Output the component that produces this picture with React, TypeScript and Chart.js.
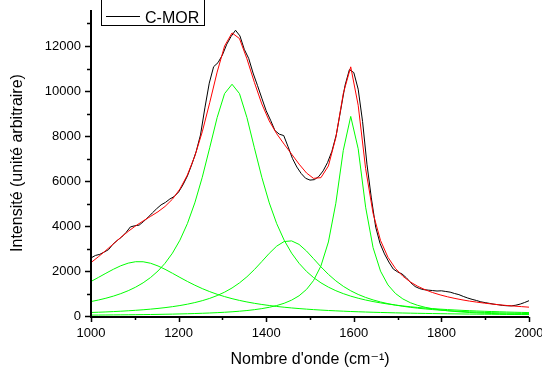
import { useEffect, useRef } from 'react';
import { Chart, registerables } from 'chart.js';

Chart.register(...registerables);

const FONT = "'Liberation Sans', Arial, Helvetica, 'DejaVu Sans', sans-serif";

// Fitted components grid (wavenumber, cm-1)
const FIT_X = [1000, 1017, 1034, 1051, 1068, 1085, 1102, 1119, 1136, 1153, 1169, 1186, 1203, 1220, 1237, 1254, 1271, 1288, 1305, 1322, 1339, 1356, 1373, 1390, 1407, 1424, 1441, 1458, 1475, 1492, 1508, 1525, 1542, 1559, 1576, 1593, 1610, 1627, 1644, 1661, 1678, 1695, 1712, 1729, 1746, 1763, 1780, 1797, 1814, 1831, 1847, 1864, 1881, 1898, 1915, 1932, 1949, 1966, 1983, 2000];

const PEAK_1 = [1536, 1715, 1899, 2076, 2233, 2350, 2413, 2411, 2345, 2224, 2076, 1899, 1715, 1536, 1370, 1218, 1084, 965, 862, 771, 693, 624, 564, 512, 466, 425, 390, 358, 330, 305, 284, 263, 245, 229, 214, 200, 188, 177, 166, 157, 148, 140, 133, 126, 120, 114, 108, 103, 98, 94, 90, 86, 83, 79, 76, 73, 70, 68, 65, 63];
const PEAK_2 = [642, 710, 790, 883, 994, 1125, 1283, 1475, 1710, 2001, 2342, 2795, 3370, 4104, 5027, 6164, 7477, 8820, 9885, 10300, 9885, 8820, 7477, 6164, 5027, 4104, 3370, 2795, 2342, 1983, 1710, 1475, 1283, 1125, 994, 883, 790, 710, 642, 583, 531, 486, 446, 411, 380, 352, 327, 305, 285, 267, 251, 236, 222, 210, 198, 187, 177, 168, 160, 152];
const PEAK_3 = [156, 168, 181, 196, 213, 232, 253, 277, 305, 337, 372, 415, 465, 525, 596, 681, 783, 908, 1060, 1245, 1471, 1743, 2063, 2420, 2786, 3106, 3310, 3338, 3182, 2888, 2550, 2185, 1851, 1562, 1320, 1121, 958, 825, 715, 624, 548, 485, 432, 386, 347, 314, 285, 260, 238, 218, 202, 186, 173, 160, 149, 139, 130, 122, 115, 108];
const PEAK_4 = [40, 42, 45, 48, 51, 54, 58, 62, 67, 72, 78, 84, 92, 100, 110, 121, 134, 149, 166, 187, 213, 243, 281, 328, 387, 464, 566, 705, 898, 1180, 1574, 2226, 3290, 5012, 7360, 8870, 7432, 4836, 3039, 1994, 1381, 1003, 758, 591, 473, 386, 321, 271, 232, 201, 177, 155, 138, 123, 111, 100, 91, 83, 76, 69];
const FIT_Y = [2374, 2635, 2915, 3203, 3491, 3761, 4007, 4225, 4427, 4634, 4868, 5193, 5642, 6265, 7103, 8184, 9478, 10842, 12000, 12580, 12330, 11430, 10385, 9424, 8666, 8099, 7636, 7196, 6752, 6356, 6118, 6149, 6669, 7928, 9888, 11074, 9368, 6548, 4562, 3358, 2608, 2114, 1769, 1514, 1320, 1166, 1041, 939, 853, 780, 720, 663, 616, 572, 534, 499, 468, 441, 416, 392];

// Measured spectrum C-MOR
const DATA_X = [1000, 1010, 1020, 1030, 1040, 1050, 1060, 1070, 1080, 1090, 1100, 1110, 1120, 1130, 1140, 1150, 1160, 1170, 1180, 1190, 1200, 1210, 1220, 1230, 1240, 1250, 1260, 1270, 1280, 1290, 1300, 1310, 1320, 1330, 1340, 1350, 1360, 1370, 1380, 1390, 1400, 1410, 1420, 1430, 1440, 1450, 1460, 1470, 1480, 1490, 1500, 1510, 1520, 1530, 1540, 1550, 1560, 1570, 1580, 1590, 1600, 1610, 1620, 1630, 1640, 1650, 1660, 1670, 1680, 1690, 1700, 1710, 1720, 1730, 1740, 1750, 1760, 1770, 1780, 1790, 1800, 1810, 1820, 1830, 1840, 1850, 1860, 1870, 1880, 1890, 1900, 1910, 1920, 1930, 1940, 1950, 1960, 1970, 1980, 1990, 2000];
const DATA_Y = [2580, 2690, 2740, 2840, 2950, 3190, 3360, 3510, 3710, 3960, 4010, 4040, 4200, 4380, 4580, 4770, 4940, 5050, 5200, 5310, 5510, 5830, 6220, 6730, 7300, 8050, 9250, 10350, 11080, 11260, 11600, 12080, 12430, 12700, 12450, 11850, 11450, 10800, 10250, 9680, 9120, 8700, 8240, 8080, 8020, 7520, 7000, 6620, 6330, 6120, 6040, 6060, 6200, 6450, 6820, 7320, 8050, 9150, 10250, 10950, 10820, 10080, 8650, 6750, 5250, 3950, 3220, 2760, 2400, 2090, 1960, 1870, 1700, 1480, 1310, 1220, 1170, 1150, 1130, 1110, 1120, 1090, 1060, 1000, 950, 870, 800, 740, 690, 630, 595, 560, 525, 500, 470, 455, 450, 480, 530, 600, 680];

const X_MAJOR = [1000, 1200, 1400, 1600, 1800, 2000];
const X_MINOR = [1100, 1300, 1500, 1700, 1900];
const Y_MAJOR = [0, 2000, 4000, 6000, 8000, 10000, 12000];
const Y_MINOR = [1000, 3000, 5000, 7000, 9000, 11000, 13000];

const LEGEND_LABEL = 'C-MOR';
const X_TITLE = "Nombre d'onde (cm\u207B\u00B9)";
const Y_TITLE = 'Intensité (unité arbitraire)';

export default function App() {
  const ref = useRef<HTMLCanvasElement>(null);

  useEffect(() => {
    const canvas = ref.current;
    if (!canvas) return;
    const pts = (xs: number[], ys: number[]) => xs.map((x, i) => ({ x, y: ys[i] }));
    const green = (ys: number[]) => ({
      label: '',
      data: pts(FIT_X, ys),
      borderColor: '#00ff00',
      borderWidth: 1,
      pointRadius: 0,
      fill: false,
      tension: 0,
      order: 2,
    });

    const axesPlugin = {
      id: 'axesPlugin',
      afterDatasetsDraw(chart: any) {
        const { ctx, chartArea } = chart;
        const { left, right, top, bottom } = chartArea;
        const xs = chart.scales.x;
        const ys = chart.scales.y;
        ctx.save();
        ctx.strokeStyle = '#000';
        ctx.lineWidth = 2;
        ctx.beginPath();
        ctx.moveTo(left, top);
        ctx.lineTo(left, bottom + 2);
        ctx.moveTo(left - 1, bottom + 1);
        ctx.lineTo(right, bottom + 1);
        ctx.stroke();
        ctx.lineWidth = 1.5;
        ctx.beginPath();
        X_MAJOR.forEach((v) => {
          const px = Math.round(xs.getPixelForValue(v)) + 0.5;
          ctx.moveTo(px, bottom + 1);
          ctx.lineTo(px, bottom + 6);
        });
        X_MINOR.forEach((v) => {
          const px = Math.round(xs.getPixelForValue(v)) + 0.5;
          ctx.moveTo(px, bottom + 1);
          ctx.lineTo(px, bottom + 4);
        });
        Y_MAJOR.forEach((v) => {
          const py = Math.round(ys.getPixelForValue(v)) + 0.5;
          ctx.moveTo(left, py);
          ctx.lineTo(left - 6, py);
        });
        Y_MINOR.forEach((v) => {
          const py = Math.round(ys.getPixelForValue(v)) + 0.5;
          ctx.moveTo(left, py);
          ctx.lineTo(left - 4, py);
        });
        ctx.stroke();
        ctx.restore();
      },
      afterDraw(chart: any) {
        const { ctx } = chart;
        ctx.save();
        ctx.fillStyle = '#fff';
        ctx.fillRect(101, -2, 104, 27);
        ctx.strokeStyle = '#000';
        ctx.lineWidth = 1;
        ctx.strokeRect(101.5, -2, 103, 27.5);
        ctx.beginPath();
        ctx.moveTo(106, 16.5);
        ctx.lineTo(140, 16.5);
        ctx.stroke();
        ctx.fillStyle = '#000';
        ctx.font = `16px ${FONT}`;
        ctx.textBaseline = 'alphabetic';
        ctx.textAlign = 'left';
        ctx.fillText(LEGEND_LABEL, 145, 22.5);
        ctx.restore();
      },
    };

    const chart = new Chart(canvas, {
      type: 'line',
      data: {
        datasets: [
          {
            label: LEGEND_LABEL,
            data: pts(DATA_X, DATA_Y),
            borderColor: '#000000',
            borderWidth: 1,
            pointRadius: 0,
            fill: false,
            tension: 0,
            order: 1,
          },
          {
            label: 'fit',
            data: pts(FIT_X, FIT_Y),
            borderColor: '#ff0000',
            borderWidth: 1,
            pointRadius: 0,
            fill: false,
            tension: 0,
            order: 0,
          },
          green(PEAK_1),
          green(PEAK_2),
          green(PEAK_3),
          green(PEAK_4),
        ],
      },
      options: {
        animation: false,
        responsive: false,
        maintainAspectRatio: false,
        events: [],
        layout: { padding: { top: 10, right: 13, bottom: 0, left: 0 } },
        plugins: {
          legend: { display: false },
          tooltip: { enabled: false },
        },
        scales: {
          x: {
            type: 'linear',
            min: 1000,
            max: 2000,
            grid: { display: false, drawTicks: false },
            border: { display: false },
            ticks: {
              stepSize: 200,
              padding: 10,
              color: '#000',
              maxRotation: 0,
              autoSkip: false,
              font: { family: FONT, size: 13 },
              callback: (v: any) => String(v),
            },
            afterBuildTicks: (s: any) => {
              s.ticks = X_MAJOR.map((v) => ({ value: v }));
            },
            title: {
              display: true,
              text: X_TITLE,
              color: '#000',
              font: { family: FONT, size: 16 },
              padding: { top: 0, bottom: 0 },
            },
            afterFit: (s: any) => {
              s.height = 53;
              s.paddingLeft = 0;
              s.paddingRight = 0;
            },
          },
          y: {
            type: 'linear',
            min: 0,
            max: 13600,
            grid: { display: false, drawTicks: false },
            border: { display: false },
            ticks: {
              padding: 10,
              color: '#000',
              autoSkip: false,
              font: { family: FONT, size: 13 },
              callback: (v: any) => String(v),
            },
            afterBuildTicks: (s: any) => {
              s.ticks = Y_MAJOR.map((v) => ({ value: v }));
            },
            title: {
              display: true,
              text: Y_TITLE,
              color: '#000',
              font: { family: FONT, size: 16 },
              padding: { top: 8, bottom: 0 },
            },
            afterFit: (s: any) => {
              s.width = 91;
              s.paddingTop = 0;
              s.paddingBottom = 0;
            },
          },
        },
      },
      plugins: [axesPlugin],
    } as any);

    return () => chart.destroy();
  }, []);

  return (
    <div style={{ position: 'fixed', left: 0, top: 0, width: 542, height: 369, background: '#fff' }}>
      <canvas ref={ref} width={542} height={369} style={{ display: 'block', width: 542, height: 369 }} />
    </div>
  );
}
